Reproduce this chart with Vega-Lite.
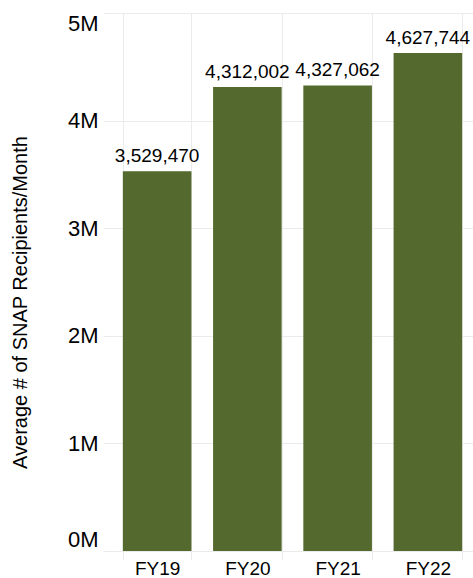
{
  "$schema": "https://vega.github.io/schema/vega-lite/v6.json",
  "width": 361,
  "height": 538,
  "autosize": {"type": "none"},
  "padding": {"left": 112, "top": 13, "right": 0, "bottom": 27},
  "background": "white",
  "config": {
    "view": {"stroke": null},
    "font": "Liberation Sans",
    "axis": {
      "gridColor": "#EBEBEB",
      "gridWidth": 1,
      "tickColor": "#EBEBEB",
      "tickSize": 9,
      "domain": false,
      "labelColor": "#000000",
      "titleColor": "#000000",
      "labelFont": "Liberation Sans",
      "titleFont": "Liberation Sans",
      "titleFontWeight": "normal"
    }
  },
  "data": {
    "values": [
      {"year": "FY19", "recipients": 3529470},
      {"year": "FY20", "recipients": 4312002},
      {"year": "FY21", "recipients": 4327062},
      {"year": "FY22", "recipients": 4627744}
    ]
  },
  "encoding": {
    "x": {
      "field": "year",
      "type": "nominal",
      "sort": null,
      "scale": {"paddingInner": 0.24, "paddingOuter": 0.12},
      "axis": {
        "title": null,
        "labelAngle": 0,
        "labelFontSize": 19,
        "labelPadding": -1,
        "grid": true,
        "tickBand": "extent"
      }
    },
    "y": {
      "field": "recipients",
      "type": "quantitative",
      "scale": {"domain": [0, 5000000], "nice": false},
      "axis": {
        "title": "Average # of SNAP Recipients/Month",
        "titleFontSize": 20,
        "titleX": -86,
        "titleY": 289,
        "titleBaseline": "alphabetic",
        "titleAngle": -90,
        "labelFontSize": 22,
        "labelPadding": 5,
        "labelFlush": true,
        "values": [0, 1000000, 2000000, 3000000, 4000000, 5000000],
        "labelExpr": "format(datum.value / 1000000, 'd') + 'M'",
        "grid": true
      }
    }
  },
  "layer": [
    {"mark": {"type": "bar", "color": "#54692E"}},
    {
      "mark": {"type": "text", "baseline": "alphabetic", "dy": -9, "fontSize": 19, "color": "#000000", "font": "Liberation Sans"},
      "encoding": {"text": {"field": "recipients", "type": "quantitative", "format": ","}}
    }
  ]
}
